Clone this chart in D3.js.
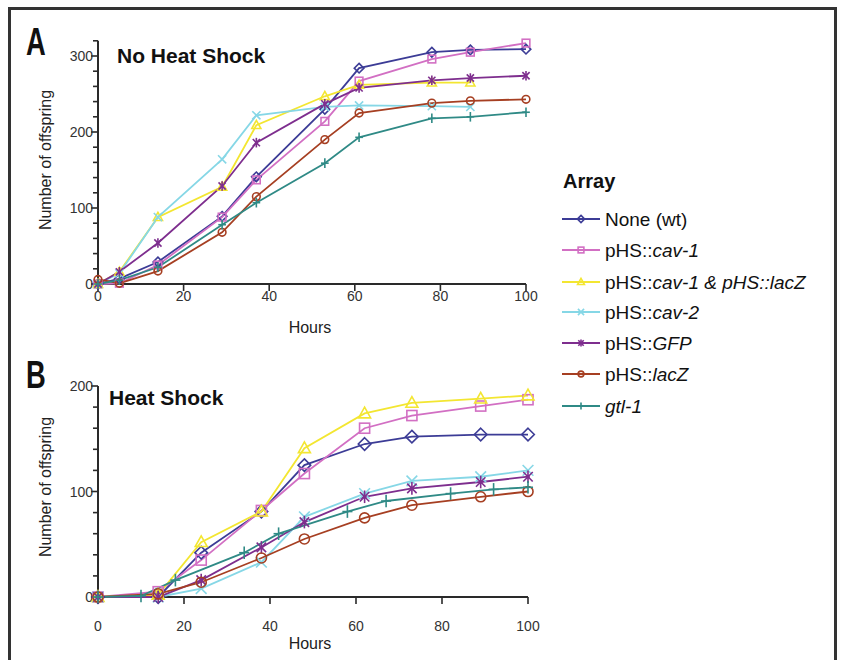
<!DOCTYPE html>
<html>
<head>
<meta charset="utf-8">
<script src="https://cdn.jsdelivr.net/npm/d3@7"></script>
<style>
  body { margin: 0; background: #fff; }
  svg { display: block; font-family: "Liberation Sans", Arial, Helvetica, sans-serif; }
</style>
</head>
<body>
<svg id="chart" width="841" height="660"></svg>
<script>
// ---- data ----
var seriesNames = ["None (wt)", "pHS::cav-1", "pHS::cav-1 & pHS::lacZ", "pHS::cav-2", "pHS::GFP", "pHS::lacZ", "gtl-1"];
var seriesColors = ["#3c3c96", "#d26fc3", "#f3e631", "#86d7e6", "#7e2e8e", "#a63f22", "#2f8a86"];
var seriesSymbols = ["diamond", "square", "triangle", "cross", "asterisk", "circle", "plus"];

// A: no heat shock
var hoursA = [0, 5, 14, 29, 37, 53, 61, 78, 87, 100];
var noHS_wt    = [0, 7, 29, 89, 141, 230, 284, 305, 308, 309];
var noHS_cav1  = [0, 1, 25, 88, 137, 214, 267, 296, 305, 317];
var noHS_cav1L = [0, 16, 88, 128, 209, 247, 262, 265, 265];
var noHS_cav2  = [0, 14, 88, 164, 222, 233, 235, 234, 233];
var noHS_gfp   = [0, 16, 54, 129, 186, 237, 258, 268, 271, 274];
var noHS_lacZ  = [6, 1, 17, 68, 115, 190, 225, 238, 241, 243];
var noHS_gtl   = [0, 5, 22, 78, 107, 159, 193, 218, 220, 226];

// B: heat shock
var hoursB = [0, 14, 24, 38, 48, 62, 73, 89, 100];
var hoursBgtl = [0, 10, 18, 34, 42, 58, 67, 82, 92, 100];
var hs_wt    = [0, 0, 42, 81, 125, 145, 152, 154, 154];
var hs_cav1  = [0, 5, 35, 82, 117, 160, 172, 181, 187];
var hs_cav1L = [0, 2, 52, 81, 141, 174, 184, 188, 191];
var hs_cav2  = [0, 0, 8, 33, 76, 98, 110, 114, 120];
var hs_gfp   = [0, 0, 16, 47, 71, 95, 103, 109, 114];
var hs_lacZ  = [0, 3, 14, 37, 55, 75, 87, 95, 100];
var hs_gtl   = [0, 1, 16, 42, 60, 81, 91, 98, 102, 104];

var xTicks = [0, 20, 40, 60, 80, 100];

function zipPts(hours, vals) {
	return vals.map(function(v, i) { return { h: hours[i], v: v }; });
}

var panelA = [
	zipPts(hoursA, noHS_wt), zipPts(hoursA, noHS_cav1), zipPts(hoursA, noHS_cav1L),
	zipPts(hoursA, noHS_cav2), zipPts(hoursA, noHS_gfp), zipPts(hoursA, noHS_lacZ),
	zipPts(hoursA, noHS_gtl)
];
var panelB = [
	zipPts(hoursB, hs_wt), zipPts(hoursB, hs_cav1), zipPts(hoursB, hs_cav1L),
	zipPts(hoursB, hs_cav2), zipPts(hoursB, hs_gfp), zipPts(hoursB, hs_lacZ),
	zipPts(hoursBgtl, hs_gtl)
];

var svg = d3.select("#chart");
var ink = "#2a2a2a";

// outer frame
svg.append("path")
	.attr("d", "M9.5,670 V8.5 H835.5 V670")
	.style("fill", "none")
	.style("stroke", "#333")
	.style("stroke-width", 3);

// marker drawing
function marker(g, type, color, r) {
	var s = g.append("g");
	function ln(x1, y1, x2, y2) {
		s.append("line").attr("x1", x1).attr("y1", y1).attr("x2", x2).attr("y2", y2)
			.style("stroke", color).style("stroke-width", 1.6);
	}
	if (type == "diamond") {
		s.append("path").attr("d", "M0," + (-r) + "L" + r + ",0L0," + r + "L" + (-r) + ",0Z")
			.style("fill", "none").style("stroke", color).style("stroke-width", 1.6);
	} else if (type == "square") {
		var q = r * 0.8;
		s.append("rect").attr("x", -q).attr("y", -q).attr("width", 2 * q).attr("height", 2 * q)
			.style("fill", "none").style("stroke", color).style("stroke-width", 1.6);
	} else if (type == "triangle") {
		s.append("path").attr("d", "M0," + (-r) + "L" + (r * 0.95) + "," + (r * 0.7) + "L" + (-r * 0.95) + "," + (r * 0.7) + "Z")
			.style("fill", "none").style("stroke", color).style("stroke-width", 1.6);
	} else if (type == "circle") {
		s.append("circle").attr("r", r * 0.8)
			.style("fill", "none").style("stroke", color).style("stroke-width", 1.6);
	} else if (type == "cross") {
		var c = r * 0.85;
		ln(-c, -c, c, c); ln(-c, c, c, -c);
	} else if (type == "asterisk") {
		var a = r * 0.75;
		ln(-a, -a, a, a); ln(-a, a, a, -a); ln(0, -r, 0, r);
		s.append("circle").attr("r", r * 0.3).style("fill", color);
	} else if (type == "plus") {
		ln(0, -r, 0, r); ln(-r * 0.8, 0, r * 0.8, 0);
	}
	return s;
}

function drawPanel(opt) {
	var x = d3.scaleLinear().domain([0, 100]).range(opt.xRange);
	var y = d3.scaleLinear().domain([0, opt.yMax]).range(opt.yRange);
	var g = svg.append("g");

	// y axis
	var yMinor = d3.range(0, opt.yMax + 1, 20);
	g.append("line").attr("x1", x(0)).attr("x2", x(0)).attr("y1", y(0)).attr("y2", y(opt.yMax))
		.style("stroke", ink).style("stroke-width", 2);
	g.selectAll(".ytick").data(yMinor).enter().append("line")
		.attr("x1", x(0)).attr("x2", function(d) { return x(0) - (d % 100 == 0 ? 7 : 5); })
		.attr("y1", function(d) { return y(d); }).attr("y2", function(d) { return y(d); })
		.style("stroke", ink).style("stroke-width", 1.6);
	g.selectAll(".ylab").data(d3.range(0, opt.yMax + 1, 100)).enter().append("text")
		.attr("x", x(0) - 5).attr("y", function(d) { return y(d) + 5; })
		.style("text-anchor", "end").style("font-size", "14px").style("fill", "#333")
		.text(function(d) { return d; });

	// x axis
	g.append("line").attr("x1", x(0)).attr("x2", x(100)).attr("y1", y(0)).attr("y2", y(0))
		.style("stroke", ink).style("stroke-width", 2);
	g.selectAll(".xtick").data(xTicks).enter().append("line")
		.attr("x1", function(d) { return x(d); }).attr("x2", function(d) { return x(d); })
		.attr("y1", y(0)).attr("y2", y(0) + 7)
		.style("stroke", ink).style("stroke-width", 1.6);
	g.selectAll(".xlab").data(xTicks).enter().append("text")
		.attr("x", function(d) { return x(d); }).attr("y", opt.xLabY)
		.style("text-anchor", "middle").style("font-size", "14px").style("fill", "#333")
		.text(function(d) { return d; });

	g.append("text").attr("x", 310).attr("y", opt.hoursY)
		.style("text-anchor", "middle").style("font-size", "16px").style("fill", "#222")
		.text("Hours");
	g.append("text")
		.attr("transform", "translate(" + 51 + "," + opt.yLabC + ") rotate(-90)")
		.style("text-anchor", "middle").style("font-size", "16px").style("fill", "#222")
		.text("Number of offspring");

	g.append("text").attr("x", opt.titleX).attr("y", opt.titleY)
		.style("font-size", "21px").style("font-weight", "bold").style("fill", "#111")
		.text(opt.title);
	g.append("text")
		.attr("transform", "translate(26," + opt.letterY + ") scale(0.72,1)")
		.style("font-size", "38px").style("font-weight", "bold").style("fill", "#111")
		.text(opt.letter);

	var line = d3.line().x(function(d) { return x(d.h); }).y(function(d) { return y(d.v); });

	opt.data.forEach(function(pts, i) {
		g.append("path").attr("d", line(pts))
			.style("fill", "none").style("stroke", seriesColors[i]).style("stroke-width", 1.8);
	});
	opt.data.forEach(function(pts, i) {
		pts.forEach(function(p) {
			marker(g, seriesSymbols[i], seriesColors[i], opt.r)
				.attr("transform", "translate(" + x(p.h) + "," + y(p.v) + ")");
		});
	});
}

drawPanel({ data: panelA, xRange: [98, 526], yMax: 320, yRange: [284, 284 - 320 * 0.76],
	xLabY: 301, hoursY: 333, yLabC: 160, title: "No Heat Shock", titleX: 117, titleY: 63,
	letter: "A", letterY: 55, r: 4.8 });
drawPanel({ data: panelB, xRange: [98, 528], yMax: 200, yRange: [597, 386],
	xLabY: 631, hoursY: 649, yLabC: 487, title: "Heat Shock", titleX: 109, titleY: 405,
	letter: "B", letterY: 388, r: 6.3 });

// legend
var leg = svg.append("g");
leg.append("text").attr("x", 563).attr("y", 188)
	.style("font-size", "20px").style("font-weight", "bold").style("fill", "#111").text("Array");
var legY = [219, 250, 282, 312, 343, 374, 406];
var legParts = [
	[["None (wt)", false]],
	[["pHS::", false], ["cav-1", true]],
	[["pHS::", false], ["cav-1 & pHS::lacZ", true]],
	[["pHS::", false], ["cav-2", true]],
	[["pHS::", false], ["GFP", true]],
	[["pHS::", false], ["lacZ", true]],
	[["gtl-1", true]]
];
seriesNames.forEach(function(name, i) {
	var yy = legY[i];
	leg.append("line").attr("x1", 562).attr("x2", 600).attr("y1", yy).attr("y2", yy)
		.style("stroke", seriesColors[i]).style("stroke-width", 1.8);
	marker(leg, seriesSymbols[i], seriesColors[i], 3.6).attr("transform", "translate(581," + yy + ")");
	var t = leg.append("text").attr("x", 605).attr("y", yy + 6.5)
		.style("font-size", "19px").style("fill", "#111");
	legParts[i].forEach(function(p) {
		t.append("tspan").style("font-style", p[1] ? "italic" : "normal").text(p[0]);
	});
});
</script>
</body>
</html>
